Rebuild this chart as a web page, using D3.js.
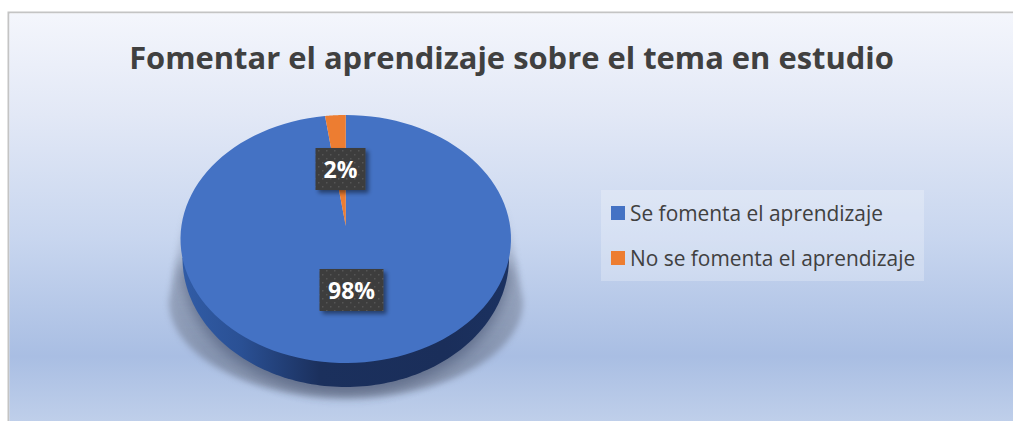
<!DOCTYPE html>
<html><head><meta charset="utf-8">
<script src="https://cdn.jsdelivr.net/npm/d3@7"></script>
<style>html,body{margin:0;padding:0;background:#fff}svg{display:block}</style>
</head><body><svg id="c" width="1013" height="421"></svg>
<script>
const titleText = "Fomentar el aprendizaje sobre el tema en estudio";
const categories = ["Se fomenta el aprendizaje", "No se fomenta el aprendizaje"];
const values = [98, 2];
const labels = ["98%", "2%"];
const colors = ["#4472c4", "#ed7d31"];

const svg = d3.select("#c");
const defs = svg.append("defs");
const lg = (id, stops, x2, y2) => {
  const g = defs.append("linearGradient").attr("id", id).attr("x1", 0).attr("y1", 0).attr("x2", x2).attr("y2", y2);
  stops.forEach(s => g.append("stop").attr("offset", s[0]).attr("stop-color", s[1]).attr("stop-opacity", s[2] === undefined ? 1 : s[2]));
};
lg("bg", [[0,"#f4f6fc"],[0.25,"#e2e8f6"],[0.55,"#c8d6ef"],[0.84,"#a9bee3"],[1,"#bfcfea"]], 0, 1);
lg("side", [[0,"#315ca6"],[0.18,"#2a5094"],[0.42,"#1b305d"],[0.8,"#1a2e5a"],[1,"#1b3160"]], 1, 0);
lg("shade", [[0,"#6b7488",0],[0.4,"#6b7488",0.75],[1,"#6b7488",1]], 0, 1);
const blur = (id, s) => defs.append("filter").attr("id",id).attr("x","-20%").attr("y","-20%").attr("width","140%").attr("height","140%")
  .append("feGaussianBlur").attr("stdDeviation", s);
blur("blurWide", 3); blur("blurTight", 7);
const ds = defs.append("filter").attr("id","lab").attr("x","-20%").attr("y","-20%").attr("width","150%").attr("height","150%");
ds.append("feDropShadow").attr("dx",3).attr("dy",3).attr("stdDeviation",2).attr("flood-color","#000").attr("flood-opacity",0.45);
const pat = defs.append("pattern").attr("id","dots").attr("width",8).attr("height",8).attr("patternUnits","userSpaceOnUse");
pat.append("rect").attr("width",8).attr("height",8).attr("fill","#3d3d3d");
pat.append("rect").attr("x",2).attr("y",2).attr("width",1.5).attr("height",1.5).attr("fill","#555555");
pat.append("rect").attr("x",6).attr("y",6).attr("width",1.5).attr("height",1.5).attr("fill","#555555");

svg.append("rect").attr("x",8.5).attr("y",12.5).attr("width",1020).attr("height",420)
  .attr("fill","none").attr("stroke","#c4c4c4").attr("stroke-width",2);
svg.append("rect").attr("x",9.5).attr("y",13.5).attr("width",1004).attr("height",408).attr("fill","url(#bg)");

svg.append("text").attr("x",511.5).attr("y",69).attr("text-anchor","middle")
  .attr("font-family","'Open Sans'").attr("font-weight",700).attr("font-size",30.9).attr("fill","#404040").text(titleText);

// Pie on a tilted disc: unit circle mapped through two linear scales
const X = d3.scaleLinear().domain([-1,1]).range([180.5,511]);
const Y = d3.scaleLinear().domain([-1,1]).range([115,363]);
// lower rim of the disc, a little narrower because of the perspective
const RX = d3.scaleLinear().domain([-1,1]).range([182.5,509]);
const RY = d3.scaleLinear().domain([-1,1]).range([129,387]);
// cast shadow outline
const SX = d3.scaleLinear().domain([-1,1]).range([169,523]);
const SY = d3.scaleLinear().domain([-1,1]).range([204,398]);
const apex = [0, -0.105];
const pie = d3.pie().sort(null)(values);
const sample = (a0,a1,n=120) => d3.range(n+1).map(i => a0+(a1-a0)*i/n);
const line = d3.line().x(d=>d[0]).y(d=>d[1]);
const pt = a => [X(Math.sin(a)), Y(-Math.cos(a))];
const lower = sample(Math.PI/2, 3*Math.PI/2);

// soft shadows: a wide trapezoid-topped one and a tight dark one under the rim
svg.append("path")
  .attr("d", line([[X(-0.97),205]].concat(lower.slice().reverse().map(a=>[SX(Math.sin(a)),SY(-Math.cos(a))]),[[X(0.97),205]]))+"Z")
  .attr("fill","url(#shade)").attr("opacity",0.6).attr("filter","url(#blurWide)");
svg.append("path").attr("d", line(lower.map(a=>[RX(Math.sin(a)),RY(-Math.cos(a))+7]))+"Z")
  .attr("fill","#2f3b5c").attr("opacity",0.45).attr("filter","url(#blurTight)");
// rim
svg.append("path").attr("d", line(lower.map(a=>[RX(Math.sin(a)),RY(-Math.cos(a))]))+"Z").attr("fill","url(#side)");
// slices
svg.selectAll("path.slice").data(pie).join("path").attr("class","slice")
  .attr("fill",(d,i)=>colors[i])
  .attr("d", d => line(sample(d.startAngle,d.endAngle).map(pt).concat([[X(apex[0]),Y(apex[1])]]))+"Z");

// data labels
const boxes = [{cx:351.5,cy:290,w:64,h:42},{cx:340.5,cy:169,w:50,h:42}];
const lab = svg.selectAll("g.lab").data(labels).join("g").attr("class","lab");
lab.append("rect").attr("x",(d,i)=>boxes[i].cx-boxes[i].w/2).attr("y",(d,i)=>boxes[i].cy-boxes[i].h/2)
  .attr("width",(d,i)=>boxes[i].w).attr("height",(d,i)=>boxes[i].h).attr("fill","url(#dots)").attr("filter","url(#lab)");
lab.append("text").attr("x",(d,i)=>boxes[i].cx).attr("y",(d,i)=>boxes[i].cy+8.5).attr("text-anchor","middle")
  .attr("font-family","'Open Sans'").attr("font-weight",700).attr("font-size",23).attr("fill","#fff").text(d=>d);

// legend
svg.append("rect").attr("x",601).attr("y",190).attr("width",323).attr("height",91).attr("fill","#fff").attr("opacity",0.25);
const leg = svg.selectAll("g.leg").data(categories).join("g").attr("class","leg")
  .attr("transform",(d,i)=>`translate(611,${206+i*45})`);
leg.append("rect").attr("width",14).attr("height",14).attr("fill",(d,i)=>colors[i]);
leg.append("text").attr("x",19).attr("y",14.5).attr("font-family","'Open Sans'").attr("font-size",20.9).attr("fill","#404040").text(d=>d);
</script></body></html>
